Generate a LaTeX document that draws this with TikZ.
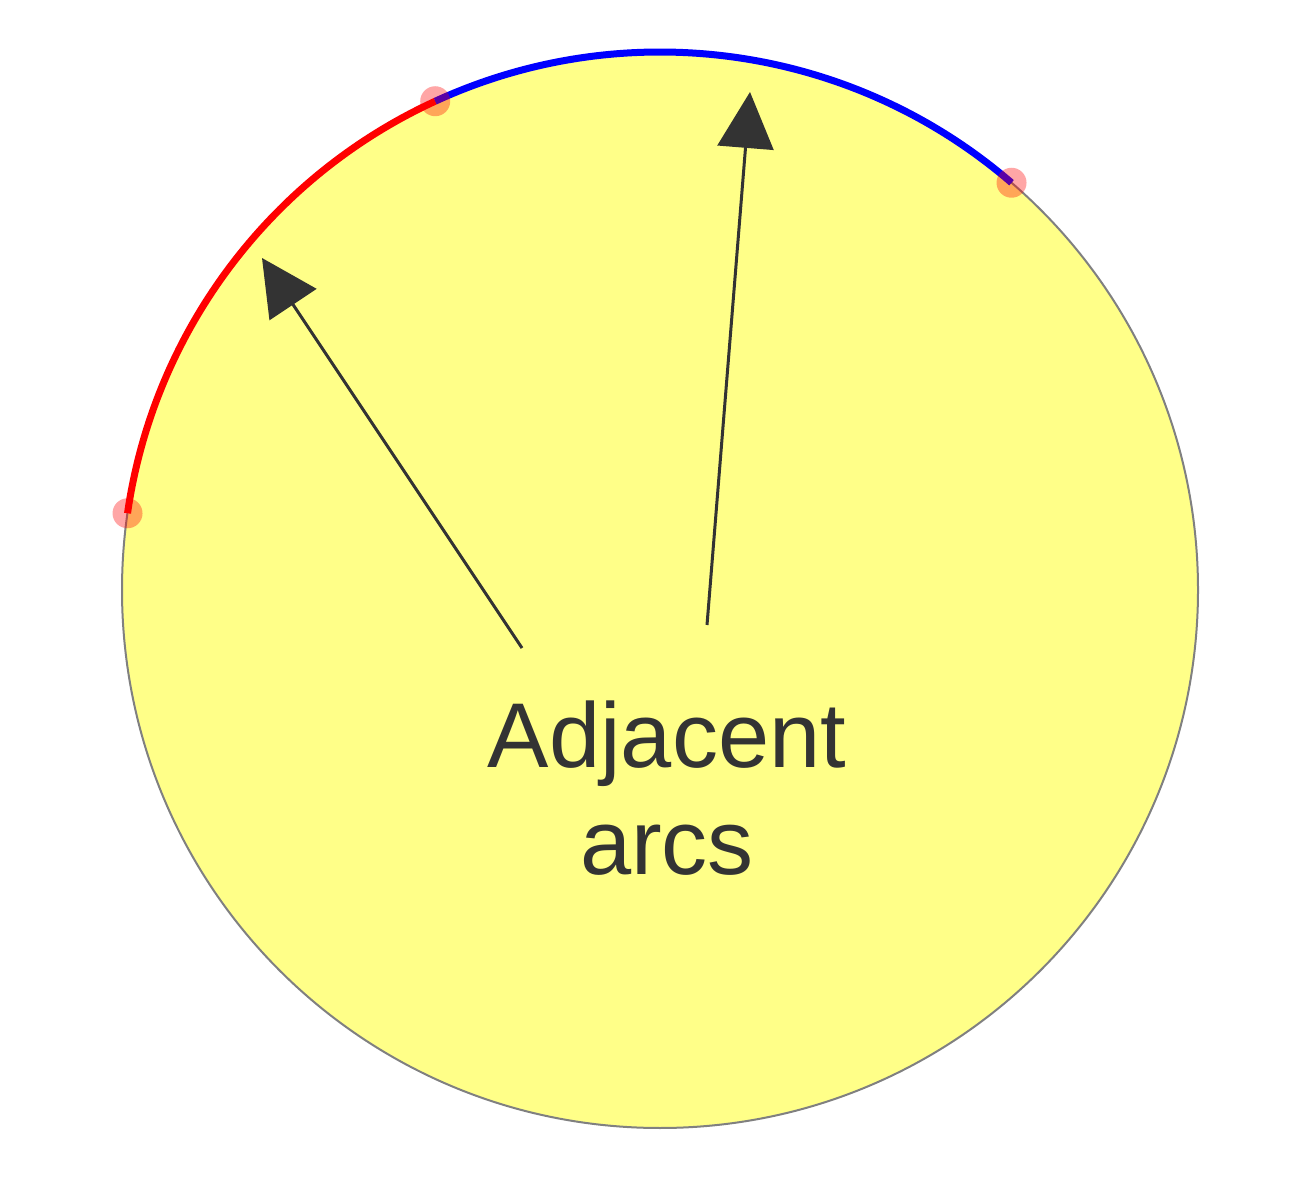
\documentclass[tikz,border=0pt]{standalone}
\usepackage{fontspec}
\setmainfont{Liberation Sans}
\usetikzlibrary{arrows.meta,calc}
\definecolor{fillyellow}{HTML}{FFFF88}
\definecolor{inkgray}{HTML}{333333}
\definecolor{rimgray}{HTML}{808080}
\definecolor{arcblue}{HTML}{0000FF}
\definecolor{arcred}{HTML}{FF0000}
\tikzset{
  rim/.style={draw=rimgray, line width=2pt, fill=fillyellow},
  hiarc/.style={line width=7pt},
  pointer/.style={draw=inkgray, line width=3pt, -{Triangle[length=56pt,width=56pt]}},
  enddot/.style={fill=arcred, fill opacity=0.35, draw=none},
  lbl/.style={text=inkgray, align=center, inner sep=0pt, font=\fontsize{92pt}{107pt}\selectfont}
}
\begin{document}
\begin{tikzpicture}[x=1pt,y=1pt]
\useasboundingbox (0,0) rectangle (1301,1200);
\coordinate (c) at (660,610);
\draw[rim] (c) circle[radius=538pt];
\draw[hiarc, arcred] ($(c)+(171.8:538pt)$) arc[start angle=171.8, end angle=114.7, radius=538pt];
\draw[hiarc, arcblue] ($(c)+(114.7:538pt)$) arc[start angle=114.7, end angle=49.2, radius=538pt];
\fill[enddot] ($(c)+(171.8:538pt)$) circle[radius=15pt];
\fill[enddot] ($(c)+(114.7:538pt)$) circle[radius=15pt];
\fill[enddot] ($(c)+(49.2:538pt)$) circle[radius=15pt];
\node[lbl] (label) at (667,412) {Adjacent\\arcs};
\coordinate (s1) at (522,552);
\coordinate (t1) at (262,942);
\coordinate (s2) at (707,575);
\coordinate (t2) at (750,1108);
\draw[pointer] (s1) -- (t1);
\draw[pointer] (s2) -- (t2);
\end{tikzpicture}
\end{document}
